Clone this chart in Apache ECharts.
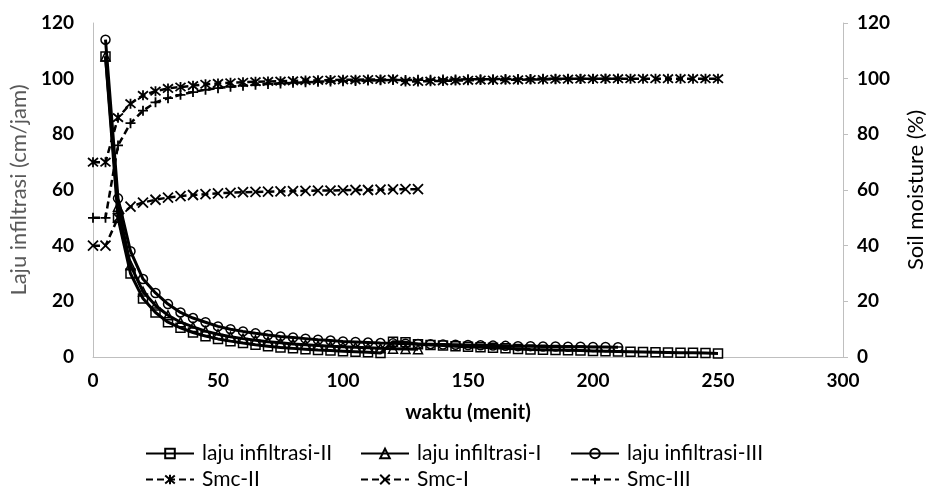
<!DOCTYPE html>
<html>
<head>
<meta charset="utf-8">
<script src="https://cdn.jsdelivr.net/npm/echarts@6/dist/echarts.min.js"></script>
<style>html,body{margin:0;padding:0;background:#fff}#c{width:927px;height:495px}</style>
</head>
<body>
<div id="c"></div>
<script>
// time (menit)
const waktu = [0,5,10,15,20,25,30,35,40,45,50,55,60,65,70,75,80,85,90,95,100,105,110,115,120,125,130,135,140,145,150,155,160,165,170,175,180,185,190,195,200,205,210,215,220,225,230,235,240,245,250];
// infiltration rates (cm/jam), starting at t=5
const lajuII = [108,50,30,21,16,12.5,10.5,8.8,7.5,6.5,5.7,5,4.4,3.9,3.4,3.1,2.8,2.5,2.3,2.1,1.9,1.7,1.4,5.5,5.3,4.6,4.3,4.1,3.9,3.7,3.5,3.3,3.1,2.9,2.7,2.6,2.5,2.4,2.3,2.2,2.1,2.0,1.9,1.8,1.7,1.6,1.5,1.5,1.4,1.3];
const lajuI = [108,54,33,23.5,18.5,15,12.5,10.8,9.3,8.2,7.3,6.6,6,5.5,5.1,4.7,4.4,4.1,3.9,3.7,3.5,3.3,3.1,3.0,2.9,2.8];
const lajuIII = [114,57,38,28,23,19,16,14,12.5,11,10,9.2,8.5,7.9,7.4,7,6.6,6.2,5.9,5.6,5.4,5.2,5.0,4.9,4.8,4.7,4.6,4.5,4.4,4.3,4.2,4.1,4.0,3.9,3.9,3.8,3.8,3.7,3.7,3.6,3.6,3.5];
// soil moisture (%), starting at t=0
const smcII = [70,70,86,91,94,95.5,96.5,97,97.5,98,98.3,98.5,98.7,98.9,99,99.1,99.2,99.3,99.4,99.5,99.6,99.6,99.7,99.7,99.8,99,99,99.1,99.2,99.3,99.4,99.5,99.5,99.6,99.6,99.7,99.7,99.8,99.8,99.9,99.9,100,100,100,100,100,100,100,100,100,100];
const smcI = [40,40,50,54,55.5,56.5,57.3,57.8,58.2,58.5,58.8,59,59.2,59.3,59.4,59.5,59.6,59.7,59.8,59.8,59.9,60,60,60.1,60.2,60.3,60.3];
const smcIII = [50,50,76,84,88.5,91.5,93,94.2,95.2,96,96.6,97.1,97.5,97.8,98.1,98.3,98.5,98.7,98.9,99,99.1,99.2,99.3,99.4,99.5,99.5,99.6,99.6,99.7,99.7,99.8,99.8,99.8,99.9,99.9,99.9,100,100,100,100,100,100,100];
const xTicks = [0,50,100,150,200,250,300];
const yTicks = [0,20,40,60,80,100,120];

function pairs(vals, startIdx){ return vals.map((v,i)=>[waktu[startIdx+i], v]); }

const FONT = 'Lato';
const SYM_ASTER = 'path://M0,0L10,10M10,0L0,10M5,-1L5,11';
const SYM_X = 'path://M0,0L10,10M10,0L0,10';
const SYM_PLUS = 'path://M5,0L5,10M0,5L10,5';

function lajuSeries(name, vals, symbol, size){
  return {
    name, type:'line', yAxisIndex:0, data:pairs(vals,1),
    symbol, symbolSize:size, showAllSymbol:true,
    lineStyle:{color:'#000', width:3},
    itemStyle:{color:'rgba(0,0,0,0)', borderColor:'#000', borderWidth:1.5},
    emphasis:{disabled:true}, z:3
  };
}
function smcSeries(name, vals, symbol, size){
  return {
    name, type:'line', yAxisIndex:1, data:pairs(vals,0),
    symbol, symbolSize:size, showAllSymbol:true,
    lineStyle:{color:'#000', width:2.5, type:[7,4]},
    itemStyle:{color:'rgba(0,0,0,0)', borderColor:'#000', borderWidth:1.8},
    emphasis:{disabled:true}, z:2
  };
}

const legendBase = {itemWidth:48, itemHeight:12, itemGap:0, textStyle:{fontFamily:FONT, fontSize:21, color:'#000', padding:[0,0,0,3]}, selectedMode:false};
const legCols = [140, 355, 565];
const legRows = [438, 464];
const legNames = [['laju infiltrasi-II','laju infiltrasi-I','laju infiltrasi-III'],['Smc-II','Smc-I','Smc-III']];
const legends = [];
legNames.forEach((row,r)=>row.forEach((n,c)=>legends.push(Object.assign({}, legendBase, {data:[n], left:legCols[c], top:legRows[r]}))));

const axisLabelStyle = {fontFamily:FONT, fontSize:19, fontWeight:'bold', color:'#000'};

const chart = echarts.init(document.getElementById('c'), null, {renderer:'canvas'});
chart.setOption({
  animation:false,
  backgroundColor:'#fff',
  grid:{left:93, right:84, top:23, bottom:138, containLabel:false, outerBoundsMode:'none'},
  legend: legends,
  xAxis:{
    type:'value', min:0, max:300, interval:50,
    name:'waktu (menit)', nameLocation:'middle', nameGap:45,
    nameTextStyle:{fontFamily:FONT, fontSize:20.5, fontWeight:'bold', color:'#000'},
    axisLine:{show:true, lineStyle:{color:'#bfbfbf', width:1}},
    axisTick:{show:false},
    splitLine:{show:false},
    axisLabel:Object.assign({margin:14, customValues:xTicks}, axisLabelStyle)
  },
  yAxis:[{
    type:'value', min:0, max:120, interval:20, position:'left',
    name:'Laju infiltrasi (cm/jam)', nameLocation:'middle', nameGap:60,
    nameTextStyle:{fontFamily:FONT, fontSize:22, color:'#595959'},
    axisLine:{show:true, lineStyle:{color:'#bfbfbf', width:1}},
    axisTick:{show:false},
    splitLine:{show:false},
    axisLabel:Object.assign({margin:19}, axisLabelStyle)
  },{
    type:'value', min:0, max:120, interval:20, position:'right',
    name:'Soil moisture (%)', nameLocation:'middle', nameGap:62,
    nameTextStyle:{fontFamily:FONT, fontSize:22, color:'#000'},
    axisLine:{show:true, lineStyle:{color:'#bfbfbf', width:1}},
    axisTick:{show:true, length:5, inside:false, lineStyle:{color:'#bfbfbf'}},
    splitLine:{show:false},
    axisLabel:Object.assign({margin:14}, axisLabelStyle)
  }],
  series:[
    lajuSeries('laju infiltrasi-II', lajuII, 'rect', 9),
    lajuSeries('laju infiltrasi-I', lajuI, 'triangle', 9),
    lajuSeries('laju infiltrasi-III', lajuIII, 'circle', 9),
    smcSeries('Smc-II', smcII, SYM_ASTER, 10),
    smcSeries('Smc-I', smcI, SYM_X, 10),
    smcSeries('Smc-III', smcIII, SYM_PLUS, 10)
  ]
});
</script>
</body>
</html>
